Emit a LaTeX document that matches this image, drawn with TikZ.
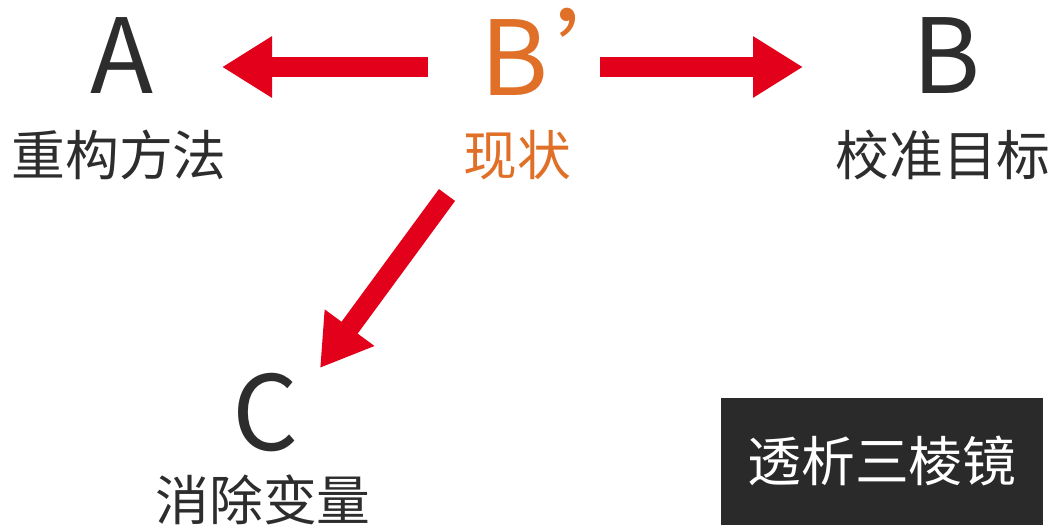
\documentclass[tikz,border=0pt]{standalone}
\usepackage{fontspec}
\setmainfont{Noto Sans CJK SC}
\usepackage{tikz}
\usetikzlibrary{arrows.meta}
\definecolor{arrowred}{RGB}{226,0,26}
\definecolor{bporange}{RGB}{224,112,40}
\definecolor{inkgray}{RGB}{45,45,45}
\definecolor{boxgray}{RGB}{42,42,42}

\begin{document}
\begin{tikzpicture}[letter/.style={anchor=base,inner sep=0pt,text=inkgray,font=\fontsize{104}{104}\selectfont},
	caption/.style={inner sep=0pt,text=inkgray,font=\fontsize{54}{54}\selectfont},
	prismbox/.style={fill=boxgray,text=white,minimum width=322bp,minimum height=127bp,font=\fontsize{54}{54}\selectfont},
	redarrow/.style={draw=arrowred,line width=20bp,-{Triangle[length=50bp,width=58bp]}}]
	\useasboundingbox[fill=white] (0bp,0bp) rectangle (1051bp,-529bp);

	\node (A)  at (122bp,-93bp)  [letter]                {A};
	\node (Bp) at (480bp,-95bp)  [letter, anchor=base west, text=bporange] {B\kern0.07em’};
	\node (B)  at (947bp,-93bp)  [letter]                {B};
	\node (C)  at (266bp,-450bp) [letter]                {C};

	\node (method) at (119bp,-155bp) [caption]                {重构方法};
	\node (status) at (517bp,-155bp) [caption, text=bporange] {现状};
	\node (target) at (943bp,-155bp) [caption]                {校准目标};
	\node (remove) at (263bp,-500bp) [caption]                {消除变量};

	\node (prism) at (882bp,-461bp) [prismbox] {透析三棱镜};

	\draw [redarrow] ([shift={(-52bp,28bp)}]Bp.base west) -- ([shift={(100bp,26bp)}]A.base);
	\draw [redarrow] ([shift={(120bp,28bp)}]Bp.base west)  -- ([shift={(-144bp,26bp)}]B.base);
	\draw [redarrow] ([shift={(-70bp,-40bp)}]status.center) -- ([shift={(54bp,82bp)}]C.base);
\end{tikzpicture}
\end{document}
